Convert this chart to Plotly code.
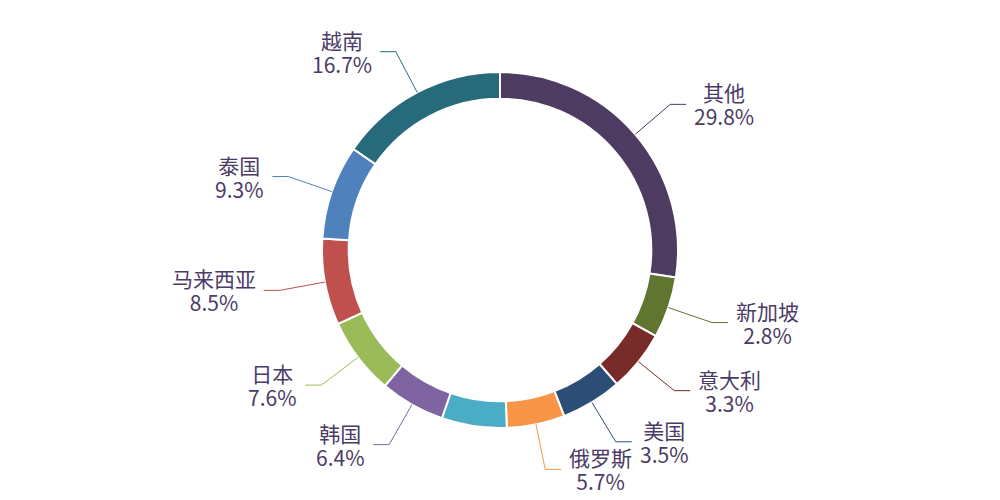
import math
import plotly.graph_objects as go

# share of each country, clockwise from 12 o'clock
countries = ["其他", "新加坡", "意大利", "美国", "俄罗斯", "印度尼西亚", "韩国", "日本", "马来西亚", "泰国", "越南"]
shares = [29.8, 2.8, 3.3, 3.5, 5.7, 6.4, 6.4, 7.6, 8.5, 9.3, 16.7]
colors = ["#4e3b62", "#5f7530", "#772c2a", "#2c4d75", "#f79646", "#4bacc6",
          "#8064a2", "#9bbb59", "#c0504d", "#4f81bd", "#276a7c"]
# one label is hidden in the original (it would overlap its neighbours)
label_shown = [True, True, True, True, True, False, True, True, True, True, True]

W, H = 1000, 500
CX, CY, R = 500, 250, 178
HOLE = 0.85
MIN_ANGLE = 20  # small slices drawn at least this wide, text keeps the real share
LEN1, LEN2, GAP = 46, 16, 6
TEXT_COLOR = "#4b3b66"
TEXT_SIZE = 21

total = sum(shares)
raw = [s / total * 360 for s in shares]
small = [a < MIN_ANGLE for a in raw]
rest = 360 - MIN_ANGLE * sum(small)
big_sum = sum(s for s, sm in zip(shares, small) if not sm)
angles = [MIN_ANGLE if sm else s / big_sum * rest for s, sm in zip(shares, small)]

fig = go.Figure()
fig.add_trace(
    go.Pie(
        labels=countries,
        values=angles,
        customdata=shares,
        hole=HOLE,
        sort=False,
        direction="clockwise",
        rotation=0,
        textinfo="none",
        marker=dict(colors=colors, line=dict(color="white", width=2)),
        hovertemplate="%{label}: %{customdata}%<extra></extra>",
        domain=dict(x=[(CX - R) / W, (CX + R) / W], y=[1 - (CY + R) / H, 1 - (CY - R) / H]),
        showlegend=False,
    )
)


def span(s):
    return "<span style='font-size:{}px'>{}</span>".format(TEXT_SIZE, s)


shapes = []
annotations = []
start = 0
for name, share, ang, col, show in zip(countries, shares, angles, colors, label_shown):
    mid = math.radians(start + ang / 2)
    start += ang
    if not show:
        continue
    sx, sy = CX + R * math.sin(mid), CY - R * math.cos(mid)
    kx, ky = CX + (R + LEN1) * math.sin(mid), CY - (R + LEN1) * math.cos(mid)
    side = 1 if math.sin(mid) >= 0 else -1
    ex = kx + side * LEN2
    path = "M {} {} L {} {} L {} {}".format(sx / W, 1 - sy / H, kx / W, 1 - ky / H, ex / W, 1 - ky / H)
    shapes.append(dict(type="path", path=path, xref="paper", yref="paper",
                       line=dict(color=col, width=1)))
    annotations.append(dict(
        x=(ex + side * GAP) / W, y=1 - ky / H, xref="paper", yref="paper",
        text=span(name) + "<br>" + span("{}%".format(share)),
        showarrow=False, align="center",
        xanchor="left" if side > 0 else "right", yanchor="middle",
        # smaller base size keeps the line spacing tight like the original
        font=dict(size=18.5, color=TEXT_COLOR, family="Noto Sans CJK SC"),
    ))

fig.update_layout(
    width=W,
    height=H,
    margin=dict(l=0, r=0, t=0, b=0),
    paper_bgcolor="white",
    plot_bgcolor="white",
    shapes=shapes,
    annotations=annotations,
)

fig.write_html("out.html", config={"displayModeBar": False},
               post_script="document.body.style.margin='0';")
